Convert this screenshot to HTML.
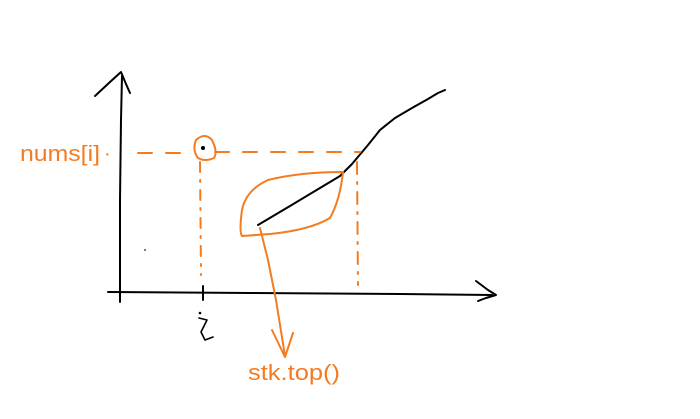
<!DOCTYPE html>
<html>
<head>
<meta charset="utf-8">
<style>
html,body{margin:0;padding:0;background:#fff;}
svg{display:block;}
text{font-family:"Liberation Sans",sans-serif;}
</style>
</head>
<body>
<svg width="700" height="419" viewBox="0 0 700 419">
  <g fill="none" stroke="#000" stroke-width="2" stroke-linecap="round" stroke-linejoin="round">
    <path d="M120,302 L120,200 L121,120 L122,76"/>
    <path d="M95,96 L110,82 L121,72 L126,84 L130,93"/>
    <path d="M108,292 L250,293 L400,294 L492,295"/>
    <path d="M476,281 L488,290 L496,295 L486,298 L478,301"/>
    <path d="M203,286 L203,300"/>
    <path d="M258,225 L290,206 L340,176 L352,164 L368,145 L380,130 L395,118 L412,108 L428,99 L438,93 L445,90"/>
    <path stroke-width="1.6" d="M199,318 L207,320 L201,332 L205,340 L213,337"/>
  </g>
  <circle cx="200" cy="313" r="1.3" fill="#000"/>
  <circle cx="145" cy="250" r="1" fill="#555"/>
  <circle cx="203" cy="148" r="2" fill="#000"/>
  <g fill="none" stroke="#f47c20" stroke-width="2" stroke-linecap="round" stroke-linejoin="round">
    <path stroke-dasharray="14,14" d="M138,153 L190,153 M215,152 L360,152"/>
    <path stroke-dasharray="10,8,2,8" d="M200,162 L201,275"/>
    <path stroke-dasharray="12,8,2,8" d="M357,162 L358,285"/>
    <path d="M196,140 Q205,132 212,140 Q218,152 214,158 Q205,162 198,158 Q192,150 196,140 Z"/>
    <path d="M343,172 Q300,172 268,180 Q246,190 242,210 Q239,232 242,236 L270,234 Q310,230 330,218 Q340,200 343,172 Z"/>
    <path d="M260,228 L268,260 L276,300 L285,356"/>
    <path d="M272,330 L285,357 L293,333"/>
  </g>
  <text x="20" y="161" font-size="22" textLength="80" lengthAdjust="spacingAndGlyphs" fill="#f47c20">nums[i]</text>
  <text x="104" y="160" font-size="20" fill="#f47c20">·</text>
  <text x="248" y="380" font-size="22" textLength="92" lengthAdjust="spacingAndGlyphs" fill="#f47c20">stk.top()</text>
</svg>
</body>
</html>
